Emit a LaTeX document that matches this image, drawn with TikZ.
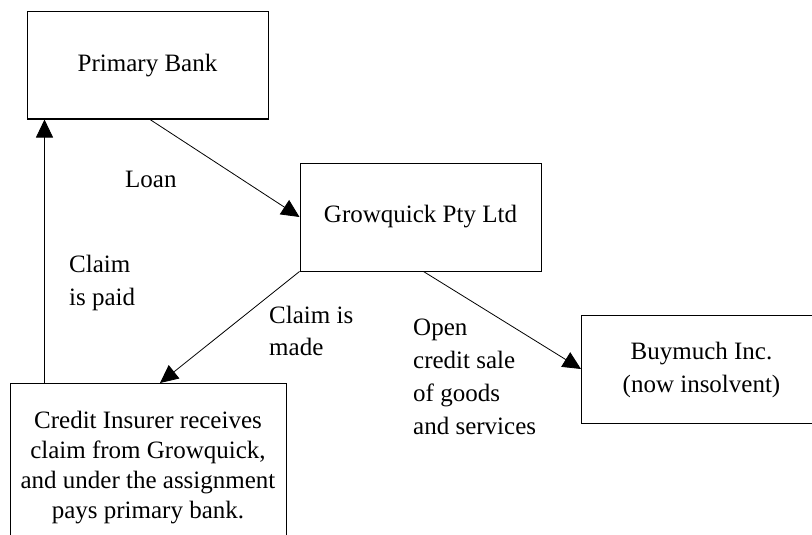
\documentclass[tikz,border=0pt]{standalone}
\usepackage{fontspec}
\setmainfont{Liberation Serif}
\usetikzlibrary{arrows.meta}
\begin{document}
\begin{tikzpicture}[x=1pt,y=-1pt,
  every node/.style={font=\rmfamily\fontsize{25}{32}\selectfont},
  box/.style={draw,line width=1pt,minimum width=241pt,minimum height=108pt,align=center,inner sep=0pt},
  lbl/.style={anchor=north west,align=left,inner sep=0pt},
  conn/.style={line width=0.8pt,-{Triangle[length=18pt,width=17pt]}}]
\useasboundingbox (0,0) rectangle (812,535);
\node[box,minimum height=107pt] (pb) at (147.5,65.5) {Primary Bank};
\node[box] (gq) at (420.5,217) {Growquick Pty Ltd};
\node[draw,line width=1pt,minimum width=280pt,minimum height=108pt,inner sep=0pt,anchor=west,
      font=\rmfamily\fontsize{25}{33}\selectfont] (bm) at (581,369)
  {\begin{tabular}{@{}c@{}}Buymuch Inc.\\(now insolvent)\end{tabular}\hspace*{40pt}};
\node[draw,line width=1pt,anchor=north,minimum width=276pt,inner xsep=3pt,inner ysep=28pt,align=center,
      font=\rmfamily\fontsize{25}{30}\selectfont] (ci) at (148,383)
  {Credit Insurer receives\\claim from Growquick,\\and under the assignment\\pays primary bank.};
\node[lbl] (loan) at (125,170.5) {Loan};
\node[lbl,font=\rmfamily\fontsize{25}{33}\selectfont] (paid) at (69,255) {Claim\\is paid};
\node[lbl] (made) at (269,306) {Claim is\\made};
\node[lbl,font=\rmfamily\fontsize{25}{33}\selectfont] (sale) at (413,319) {Open\\credit sale\\of goods\\and services};
\draw[conn] ([xshift=2.5pt]pb.south) -- (gq.west);
\draw[conn] ([xshift=35pt]ci.north west) -- ([xshift=35pt]ci.north west |- pb.south);
\draw[conn] (gq.south west) -- ([xshift=12pt]ci.north);
\draw[conn] ([xshift=3pt]gq.south) -- (bm.west);
\end{tikzpicture}
\end{document}
